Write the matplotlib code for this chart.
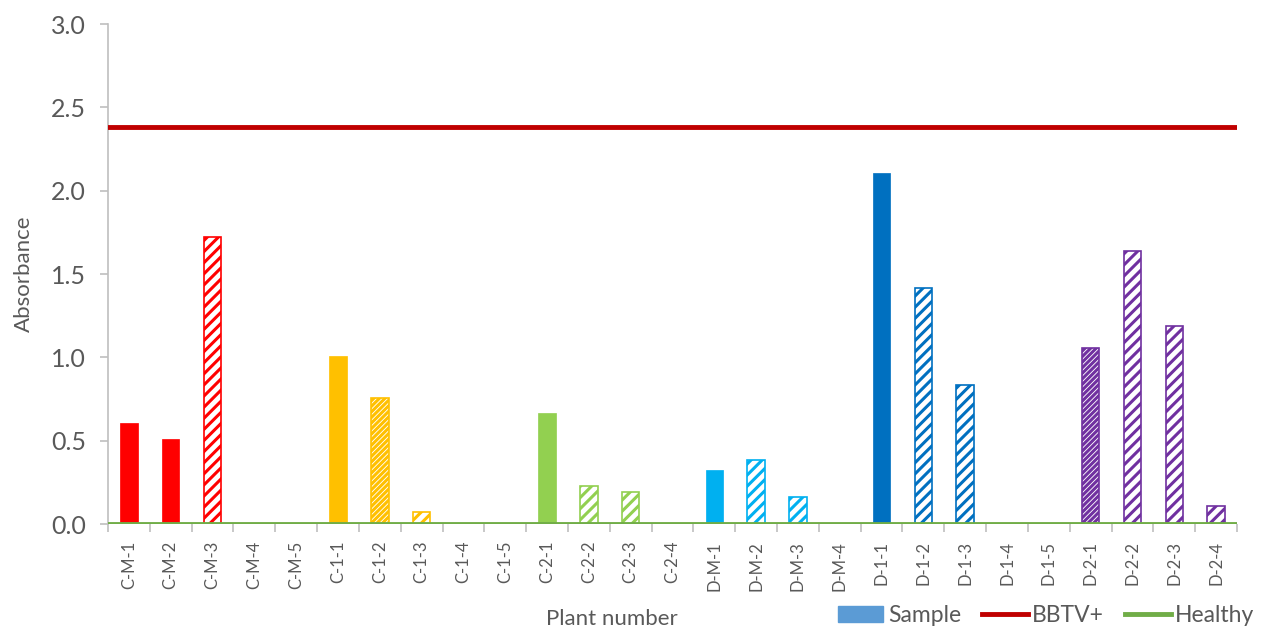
import numpy as np
import matplotlib.pyplot as plt
from matplotlib.patches import Patch
from matplotlib.lines import Line2D

plt.rcParams['font.family'] = ['Lato', 'DejaVu Sans']
plt.rcParams['hatch.linewidth'] = 2.2

# data
plants = ['C-M-1', 'C-M-2', 'C-M-3', 'C-M-4', 'C-M-5',
          'C-1-1', 'C-1-2', 'C-1-3', 'C-1-4', 'C-1-5',
          'C-2-1', 'C-2-2', 'C-2-3', 'C-2-4',
          'D-M-1', 'D-M-2', 'D-M-3', 'D-M-4',
          'D-1-1', 'D-1-2', 'D-1-3', 'D-1-4', 'D-1-5',
          'D-2-1', 'D-2-2', 'D-2-3', 'D-2-4']
absorbance = [0.605, 0.508, 1.72, 0.0, 0.0,
              1.01, 0.756, 0.07, 0.0, 0.0,
              0.664, 0.23, 0.192, 0.0,
              0.324, 0.384, 0.162, 0.0,
              2.108, 1.418, 0.834, 0.0, 0.0,
              1.054, 1.64, 1.19, 0.11]
group_sizes = [5, 5, 4, 4, 5, 4]
group_colors = ['#FF0000', '#FFC000', '#92D050', '#00B0F0', '#0070C0', '#7030A0']
# '' = solid fill, otherwise hatch pattern
hatches = ['', '', '///', '', '',
           '', '//////', '///', '', '',
           '', '///', '///', '',
           '', '///', '///', '',
           '', '///', '///', '', '',
           '//////', '///', '///', '///']
bbtv_pos = 2.385
healthy = 0.0

colors = np.repeat(group_colors, group_sizes)
x = np.arange(len(plants))

fig = plt.figure(figsize=(12.75, 6.33), dpi=100)
ax = fig.add_axes([0.0847, 0.172, 0.8855, 0.790])

for xi, v, c, h in zip(x, absorbance, colors, hatches):
    if v <= 0:
        continue
    if h:
        ax.bar(xi, v, width=0.42, color='white', edgecolor=c, hatch=h, linewidth=1.2, zorder=2)
    else:
        ax.bar(xi, v, width=0.42, color=c, edgecolor=c, linewidth=0.5, zorder=2)

ax.axhline(bbtv_pos, color='#C00000', lw=3.5, zorder=3)
ax.axhline(healthy, color='#70AD47', lw=3.5, zorder=3)

ax.set_xlim(-0.5, len(plants) - 0.5)
ax.set_ylim(0, 3.0)
ax.set_yticks(np.arange(0, 3.01, 0.5))
ax.set_yticklabels([f'{v:.1f}' for v in np.arange(0, 3.01, 0.5)])
ax.set_xticks(x)
ax.set_xticklabels(plants, rotation=90)
ax.set_xticks(np.arange(-0.5, len(plants)), minor=True)
ax.tick_params(axis='x', which='major', length=0, pad=12, labelsize=12, labelcolor='#595959')
ax.tick_params(axis='x', which='minor', length=6, color='#BFBFBF', width=1.2)
ax.tick_params(axis='y', length=6, color='#BFBFBF', width=1.2, labelsize=18, labelcolor='#595959', pad=10)

for s in ['top', 'right']:
    ax.spines[s].set_visible(False)
ax.spines['left'].set_color('#BFBFBF')
ax.spines['left'].set_linewidth(1.2)
ax.spines['bottom'].set_visible(False)

ax.set_ylabel('Absorbance', fontsize=16, color='#595959')
ax.yaxis.set_label_coords(-0.066, 0.5)
ax.set_xlabel('Plant number', fontsize=16, color='#595959')
ax.xaxis.set_label_coords(0.446, -0.17)

handles = [Patch(facecolor='#5B9BD5', edgecolor='#5B9BD5'),
           Line2D([0], [0], color='#C00000', lw=3.5),
           Line2D([0], [0], color='#70AD47', lw=3.5)]
leg = fig.legend(handles, ['Sample', 'BBTV+', 'Healthy'], loc='lower right',
                 bbox_to_anchor=(1.0, -0.022), ncol=3, frameon=False, fontsize=16.5,
                 handlelength=2.0, handletextpad=0.2, columnspacing=0.9)
for t in leg.get_texts():
    t.set_color('#595959')

fig.savefig('out.png', dpi=100)
